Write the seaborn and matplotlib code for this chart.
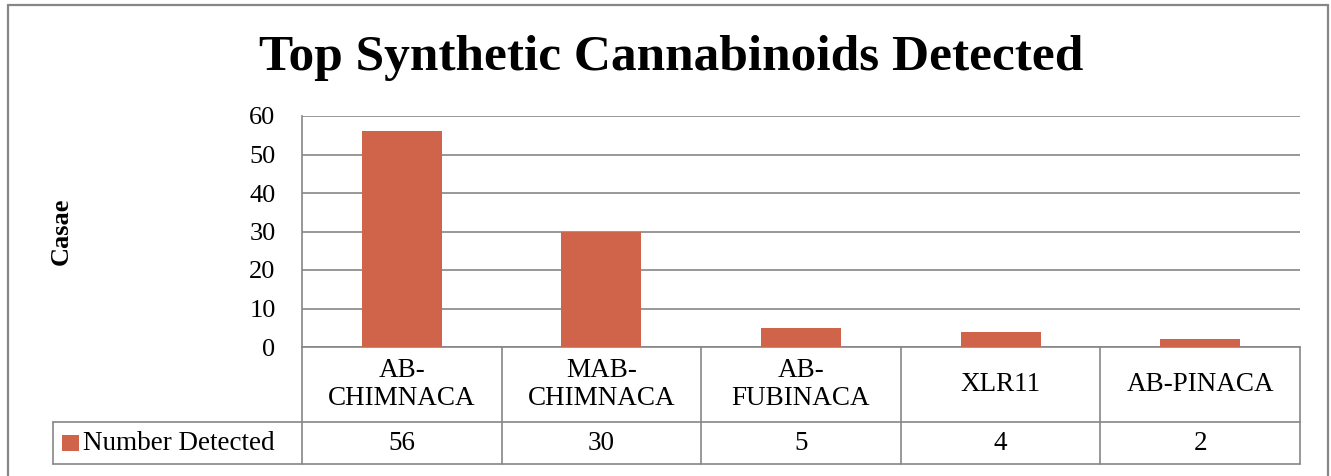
import matplotlib
matplotlib.use("Agg")
import matplotlib.pyplot as plt
import matplotlib.transforms as mtransforms
from matplotlib.lines import Line2D
from matplotlib.patches import Rectangle
import seaborn as sns
import pandas as pd

# Chart data
categories = ["AB-\nCHIMNACA", "MAB-\nCHIMNACA", "AB-\nFUBINACA", "XLR11", "AB-PINACA"]
values = [56, 30, 5, 4, 2]
series_name = "Number Detected"
y_ticks = [0, 10, 20, 30, 40, 50, 60]

BAR_COLOR = "#D0644A"
LINE_COLOR = "#868686"

sns.set_theme(style="white")
plt.rcParams["font.family"] = ["Liberation Serif", "DejaVu Serif"]

W, H = 1331, 476
fig = plt.figure(figsize=(W / 100, H / 100), dpi=100)
fig.patch.set_facecolor("white")

# plot area in pixels: left 302, right 1300, top 116, zero line 347
ax = fig.add_axes([302 / W, (H - 347) / H, 998 / W, 231 / H])

df = pd.DataFrame({"cat": categories, "val": values})
sns.barplot(data=df, x="cat", y="val", color=BAR_COLOR, width=0.4,
            saturation=1, linewidth=0, ax=ax, zorder=3)

ax.set_xlim(-0.5, len(categories) - 0.5)
ax.set_ylim(y_ticks[0], y_ticks[-1])
ax.set_yticks(y_ticks)
ax.set_xticks([])
ax.set_xlabel("")
ax.set_ylabel("Casae", fontsize=19, fontweight="bold", color="black")
ax.yaxis.set_label_coords((73 - 302) / 998, 0.5)
ax.tick_params(axis="y", length=0, pad=19, labelsize=19, labelcolor="black")

ax.yaxis.grid(True, color=LINE_COLOR, linewidth=1.2)
ax.set_axisbelow(True)
for side in ("top", "right"):
    ax.spines[side].set_visible(False)
for side in ("left", "bottom"):
    ax.spines[side].set_color(LINE_COLOR)
    ax.spines[side].set_linewidth(1.2)

# Data table below the plot
trans = mtransforms.blended_transform_factory(ax.transData, ax.transAxes)
ax_h = 231.0
y_mid = -(422 - 347) / ax_h
y_bot = -(464 - 347) / ax_h
x_leg = -0.5 + (53 - 302) / 998 * len(categories)
x_end = len(categories) - 0.5
lkw = dict(color=LINE_COLOR, linewidth=1.2, clip_on=False, transform=trans)

for i in range(len(categories) + 1):
    ax.add_line(Line2D([i - 0.5, i - 0.5], [0, y_bot], **lkw))
ax.add_line(Line2D([x_leg, x_end], [y_mid, y_mid], **lkw))
ax.add_line(Line2D([x_leg, x_end], [y_bot, y_bot], **lkw))
ax.add_line(Line2D([x_leg, x_leg], [y_mid, y_bot], **lkw))

y_cat = -(384.5 - 347) / ax_h
y_val = -(443 - 347) / ax_h
for i, (c, v) in enumerate(zip(categories, values)):
    ax.text(i, y_cat, c, transform=trans, ha="center", va="center",
            fontsize=19.5, linespacing=1.12, color="black", clip_on=False)
    ax.text(i, y_val, f"{v}", transform=trans, ha="center", va="center",
            fontsize=19.5, color="black", clip_on=False)

# legend key and series name in the table's first column
fig.add_artist(Rectangle((62 / W, (H - 451) / H), 17 / W, 16 / H,
                         transform=fig.transFigure, facecolor=BAR_COLOR,
                         edgecolor="none"))
fig.text(83 / W, (H - 443) / H, series_name, ha="left", va="center",
         fontsize=19.5, color="black")

# Title
fig.text(671 / W, (H - 70) / H, "Top Synthetic Cannabinoids Detected",
         ha="center", va="baseline", fontsize=37, fontweight="bold",
         color="black")

# Outer chart border (open at the bottom)
bkw = dict(color=LINE_COLOR, linewidth=1.6, transform=fig.transFigure)
fig.add_artist(Line2D([8 / W, 8 / W], [0, (H - 5) / H], **bkw))
fig.add_artist(Line2D([8 / W, 1328 / W], [(H - 5) / H, (H - 5) / H], **bkw))
fig.add_artist(Line2D([1328 / W, 1328 / W], [(H - 5) / H, 0], **bkw))

fig.savefig("out.png", dpi=100, facecolor="white")
